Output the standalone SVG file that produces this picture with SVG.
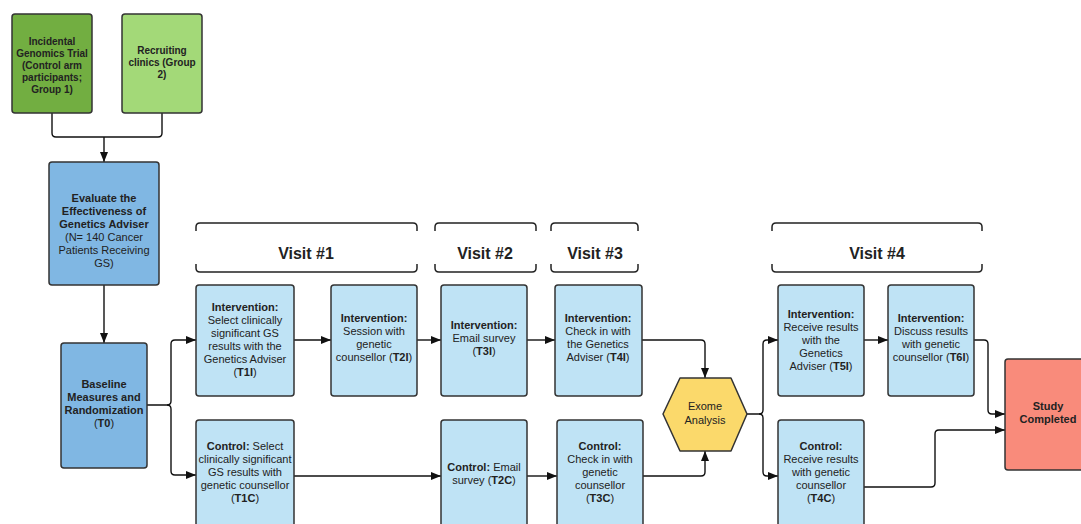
<svg xmlns="http://www.w3.org/2000/svg" width="1081" height="524" viewBox="0 0 1081 524">
<defs>
<marker id="arr" markerUnits="userSpaceOnUse" markerWidth="10" markerHeight="8" refX="10" refY="4" orient="auto">
<path d="M0,0 L10,4 L0,8 z" fill="#111"/>
</marker>
<style>
.box{stroke:#333;stroke-width:1.5}
.lb{fill:#bfe3f5}
.db{fill:#80b7e3}
.g1{fill:#72ae41}
.g2{fill:#a3d978}
.hx{fill:#fbd96b}
.st{fill:#f98b7b}
text{font-family:"Liberation Sans",Arial,sans-serif;font-size:11px;fill:#222;text-anchor:middle}
.b{font-weight:bold}
.sm{font-size:10px;font-weight:bold}
.vis{font-size:16px;font-weight:bold}
.br{fill:none;stroke:#222;stroke-width:1.5}
.c{fill:none;stroke:#111;stroke-width:1.4;stroke-linejoin:round}
.a{marker-end:url(#arr)}
</style>
</defs>
<rect width="1081" height="524" fill="#fff"/>

<g id="connectors">
<path class="c" d="M52 113 V133 Q52 137 56 137 H158 Q162 137 162 133 V113"/>
<path class="c a" d="M104 137 V162"/>
<path class="c a" d="M104 285 V343"/>
<path class="c" d="M147 405 H167 Q171 405 171 401 V344 Q171 340 175 340 H196" marker-end="url(#arr)"/>
<path class="c" d="M167 405 Q171 405 171 409 V471 Q171 475 175 475 H196" marker-end="url(#arr)"/>
<path class="c a" d="M294 340 H331"/>
<path class="c a" d="M417 340 H441"/>
<path class="c a" d="M527 340 H555"/>
<path class="c a" d="M642 340 H701 Q705 340 705 344 V378"/>
<path class="c a" d="M294 476 H441"/>
<path class="c a" d="M527 476 H557"/>
<path class="c a" d="M643 476 H701 Q705 476 705 472 V451"/>
<path class="c a" d="M747 414 H759 Q763 414 763 410 V344 Q763 340 767 340 H778"/>
<path class="c a" d="M759 414 Q763 414 763 418 V472 Q763 476 767 476 H778"/>
<path class="c a" d="M864 340 H888"/>
<path class="c a" d="M974 340 H984 Q988 340 988 344 V410 Q988 414 992 414 H1005"/>
<path class="c a" d="M864 487 H931 Q935 487 935 483 V434 Q935 430 939 430 H1005"/>
</g>

<g id="visit1">
<path class="br" d="M196 231 V227 Q196 223 200 223 H413 Q417 223 417 227 V231"/>
<path class="br" d="M196 264 V268 Q196 272 200 272 H413 Q417 272 417 268 V264"/>
<text class="vis" x="306" y="259">Visit #1</text>
</g>
<g id="visit2">
<path class="br" d="M435 231 V227 Q435 223 439 223 H532 Q536 223 536 227 V231"/>
<path class="br" d="M435 264 V268 Q435 272 439 272 H532 Q536 272 536 268 V264"/>
<text class="vis" x="485" y="259">Visit #2</text>
</g>
<g id="visit3">
<path class="br" d="M551 231 V227 Q551 223 555 223 H634 Q638 223 638 227 V231"/>
<path class="br" d="M551 264 V268 Q551 272 555 272 H634 Q638 272 638 268 V264"/>
<text class="vis" x="595" y="259">Visit #3</text>
</g>
<g id="visit4">
<path class="br" d="M772 231 V227 Q772 223 776 223 H978 Q982 223 982 227 V231"/>
<path class="br" d="M772 264 V268 Q772 272 776 272 H978 Q982 272 982 268 V264"/>
<text class="vis" x="877" y="259">Visit #4</text>
</g>

<g id="group1">
<rect class="box g1" x="12" y="14" width="80" height="99" rx="3"/>
<text class="sm" x="52" y="45">Incidental</text>
<text class="sm" x="52" y="57">Genomics Trial</text>
<text class="sm" x="52" y="69">(Control arm</text>
<text class="sm" x="52" y="81">participants;</text>
<text class="sm" x="52" y="93">Group 1)</text>
</g>
<g id="group2">
<rect class="box g2" x="122" y="14" width="80" height="99" rx="3"/>
<text class="sm" x="162" y="54">Recruiting</text>
<text class="sm" x="162" y="66">clinics (Group</text>
<text class="sm" x="162" y="78">2)</text>
</g>
<g id="evaluate">
<rect class="box db" x="49" y="162" width="110" height="123" rx="3"/>
<text class="b" x="104" y="202">Evaluate the</text>
<text class="b" x="104" y="215">Effectiveness of</text>
<text class="b" x="104" y="228">Genetics Adviser</text>
<text x="104" y="241">(N= 140 Cancer</text>
<text x="104" y="254">Patients Receiving</text>
<text x="104" y="267">GS)</text>
</g>
<g id="baseline">
<rect class="box db" x="61" y="343" width="86" height="125" rx="3"/>
<text class="b" x="104" y="388">Baseline</text>
<text class="b" x="104" y="401">Measures and</text>
<text class="b" x="104" y="414">Randomization</text>
<text x="104" y="427">(<tspan class="b">T0</tspan>)</text>
</g>
<g id="t1i">
<rect class="box lb" x="196" y="285" width="98" height="111" rx="3"/>
<text class="b" x="245" y="311">Intervention:</text>
<text x="245" y="324">Select clinically</text>
<text x="245" y="337">significant GS</text>
<text x="245" y="350">results with the</text>
<text x="245" y="363">Genetics Adviser</text>
<text x="245" y="376">(<tspan class="b">T1I</tspan>)</text>
</g>
<g id="t2i">
<rect class="box lb" x="331" y="285" width="86" height="111" rx="3"/>
<text class="b" x="374" y="322">Intervention:</text>
<text x="374" y="335">Session with</text>
<text x="374" y="348">genetic</text>
<text x="374" y="361">counsellor (<tspan class="b">T2I</tspan>)</text>
</g>
<g id="t3i">
<rect class="box lb" x="441" y="285" width="86" height="111" rx="3"/>
<text class="b" x="484" y="329">Intervention:</text>
<text x="484" y="342">Email survey</text>
<text x="484" y="355">(<tspan class="b">T3I</tspan>)</text>
</g>
<g id="t4i">
<rect class="box lb" x="555" y="285" width="87" height="111" rx="3"/>
<text class="b" x="598" y="322">Intervention:</text>
<text x="598" y="335">Check in with</text>
<text x="598" y="348">the Genetics</text>
<text x="598" y="361">Adviser (<tspan class="b">T4I</tspan>)</text>
</g>
<g id="t1c">
<rect class="box lb" x="196" y="420" width="98" height="115" rx="3"/>
<text x="245" y="450"><tspan class="b">Control:</tspan> Select</text>
<text x="245" y="463">clinically significant</text>
<text x="245" y="476">GS results with</text>
<text x="245" y="489">genetic counsellor</text>
<text x="245" y="502">(<tspan class="b">T1C</tspan>)</text>
</g>
<g id="t2c">
<rect class="box lb" x="441" y="420" width="86" height="115" rx="3"/>
<text x="484" y="471"><tspan class="b">Control:</tspan> Email</text>
<text x="484" y="484">survey (<tspan class="b">T2C</tspan>)</text>
</g>
<g id="t3c">
<rect class="box lb" x="557" y="420" width="86" height="115" rx="3"/>
<text class="b" x="600" y="450">Control:</text>
<text x="600" y="463">Check in with</text>
<text x="600" y="476">genetic</text>
<text x="600" y="489">counsellor</text>
<text x="600" y="502">(<tspan class="b">T3C</tspan>)</text>
</g>
<g id="exome">
<path class="box hx" d="M663 414 L680 378 H731 L747 414 L731 451 H680 Z" stroke-linejoin="round"/>
<text x="705" y="410">Exome</text>
<text x="705" y="424">Analysis</text>
</g>
<g id="t5i">
<rect class="box lb" x="778" y="285" width="86" height="111" rx="3"/>
<text class="b" x="821" y="318">Intervention:</text>
<text x="821" y="331">Receive results</text>
<text x="821" y="344">with the</text>
<text x="821" y="357">Genetics</text>
<text x="821" y="370">Adviser (<tspan class="b">T5I</tspan>)</text>
</g>
<g id="t6i">
<rect class="box lb" x="888" y="285" width="86" height="111" rx="3"/>
<text class="b" x="931" y="322">Intervention:</text>
<text x="931" y="335">Discuss results</text>
<text x="931" y="348">with genetic</text>
<text x="931" y="361">counsellor (<tspan class="b">T6I</tspan>)</text>
</g>
<g id="t4c">
<rect class="box lb" x="778" y="420" width="86" height="115" rx="3"/>
<text class="b" x="821" y="450">Control:</text>
<text x="821" y="463">Receive results</text>
<text x="821" y="476">with genetic</text>
<text x="821" y="489">counsellor</text>
<text x="821" y="502">(<tspan class="b">T4C</tspan>)</text>
</g>
<g id="study">
<rect class="box st" x="1005" y="359" width="100" height="111" rx="3"/>
<text class="b" x="1048" y="410">Study</text>
<text class="b" x="1048" y="423">Completed</text>
</g>
</svg>
